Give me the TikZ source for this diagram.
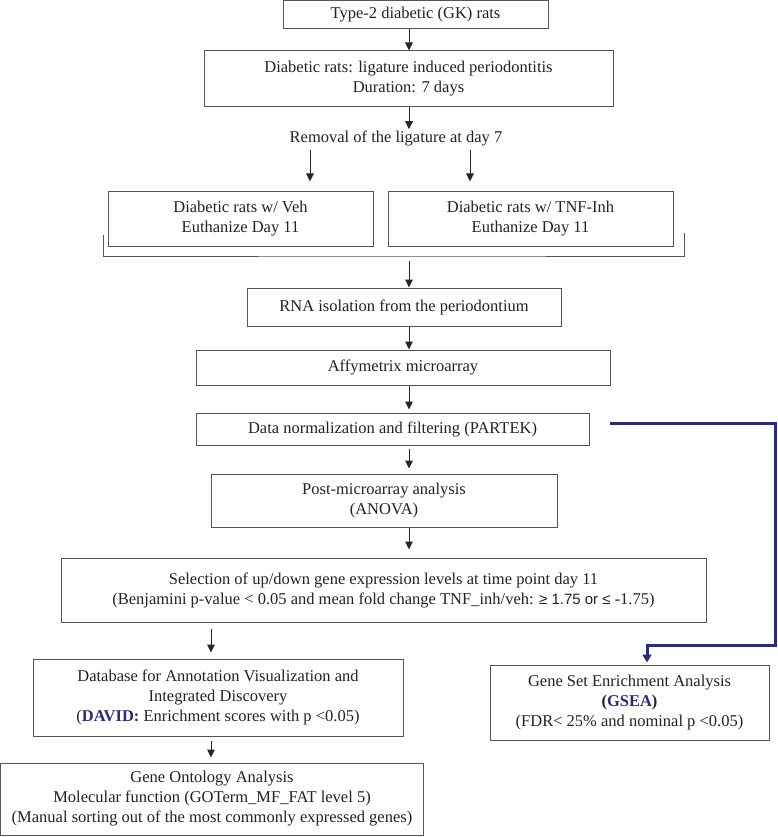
\documentclass[tikz,border=0pt]{standalone}
\usepackage{fontspec}
\setmainfont{Liberation Serif}
\newfontfamily\sansf{Liberation Sans}
\usetikzlibrary{arrows.meta}
\definecolor{navy}{HTML}{2B2B7B}
\definecolor{txt}{HTML}{222222}
\definecolor{edgec}{HTML}{555555}
\begin{document}
\begin{tikzpicture}[x=1pt,y=-1pt,
  box/.style={draw=edgec, line width=1pt, inner sep=0pt, align=center, text=txt,
    font=\fontsize{16.5}{20}\selectfont},
  plain/.style={inner sep=0pt, text=txt, font=\fontsize{16.5}{20}\selectfont},
  arr/.style={draw=black!85, line width=1pt, -{Triangle[length=8pt,width=7.5pt]}},
  bluearr/.style={draw=navy, line width=3pt, line join=miter, -{Triangle[length=8pt,width=9pt]}},
  bracketline/.style={draw=edgec, line width=1pt}]
\useasboundingbox (0,0) rectangle (777,837);

% nodes
\node[box, minimum width=265pt, minimum height=28pt] (t2) at (415.5,15) {Type-2 diabetic (GK) rats};
\node[box, minimum width=409pt, minimum height=56pt] (lig) at (408.5,79) {Diabetic rats: ligature induced periodontitis\\Duration: 7 days};
\node[plain] (rem) at (396,138) {Removal of the ligature at day 7};
\node[box, minimum width=265pt, minimum height=55pt] (veh) at (240.5,218.5) {Diabetic rats w/ Veh\\Euthanize Day 11};
\node[box, minimum width=285pt, minimum height=55pt] (tnf) at (530.5,218.5) {Diabetic rats w/ TNF-Inh\\Euthanize Day 11};
\node[box, minimum width=314pt, minimum height=38pt] (rna) at (404,307) {RNA isolation from the periodontium};
\node[box, minimum width=414pt, minimum height=35pt] (affy) at (403,367.5) {Affymetrix microarray};
\node[box, minimum width=393pt, minimum height=32pt] (norm) at (392.5,429) {Data normalization and filtering (PARTEK)};
\node[box, minimum width=346pt, minimum height=53pt] (post) at (384,500.5) {Post-microarray analysis\\(ANOVA)};
\node[box, minimum width=645pt, minimum height=64pt] (sel) at (383.5,590) {Selection of up/down gene expression levels at time point day 11\\(Benjamini p-value {<} 0.05 and mean fold change TNF\_inh/veh: {\sansf\fontsize{15}{20}\selectfont ≥ 1.75 or ≤} -1.75)};
\node[box, minimum width=370pt, minimum height=77pt] (david) at (218,697.5) {Database for Annotation Visualization and\\Integrated Discovery\\({\bfseries\color{navy}DAVID:} Enrichment scores with p {<}0.05)};
\node[box, minimum width=423pt, minimum height=72pt] (go) at (212,799) {Gene Ontology Analysis\\Molecular function (GOTerm\_MF\_FAT level 5)\\(Manual sorting out of the most commonly expressed genes)};
\node[box, minimum width=279pt, minimum height=75pt] (gsea) at (629.5,702.5) {Gene Set Enrichment Analysis\\{\bfseries({\color{navy}GSEA})}\\(FDR{<} 25\% and nominal p {<}0.05)};

% helper coordinates
\coordinate (sp) at (409,0);
\coordinate (xl) at (310,0);
\coordinate (xr) at (470,0);
\coordinate (xd) at (211,0);
\coordinate (brl) at (103,235);
\coordinate (brm) at (409,256);
\coordinate (brr) at (684,233);
\coordinate (bs) at (610,423);
\coordinate (bx) at (647,0);

% connectors
\draw[arr] (t2.south -| sp) -- (lig.north -| sp);
\draw[arr, shorten >=1pt] (lig.south -| sp) -- (rem.north -| sp);
\draw[arr, shorten <=4pt, shorten >=9pt] (rem.south -| xl) -- (veh.north -| xl);
\draw[arr, shorten <=4pt, shorten >=9pt] (rem.south -| xr) -- (tnf.north -| xr);
\draw[bracketline] (brl) |- (brm) -| (brr);
\draw[arr, shorten <=5pt] (brm) -- (rna.north -| sp);
\draw[arr] (rna.south -| sp) -- (affy.north -| sp);
\draw[arr, shorten >=3pt] (affy.south -| sp) -- (norm.north -| sp);
\draw[arr, shorten <=3pt, shorten >=5pt] (norm.south -| sp) -- (post.north -| sp);
\draw[arr, shorten >=8pt] (post.south -| sp) -- (sel.north -| sp);
\draw[arr, shorten <=6pt, shorten >=6pt] (sel.south -| xd) -- (david.north -| xd);
\draw[arr, shorten <=4pt, shorten >=5pt] (david.south -| xd) -- (go.north -| xd);
\draw[bluearr, shorten >=2pt] (bs) -- (775,423) -- (775,645) -- (647,645) -- (gsea.north -| bx);
\end{tikzpicture}
\end{document}
